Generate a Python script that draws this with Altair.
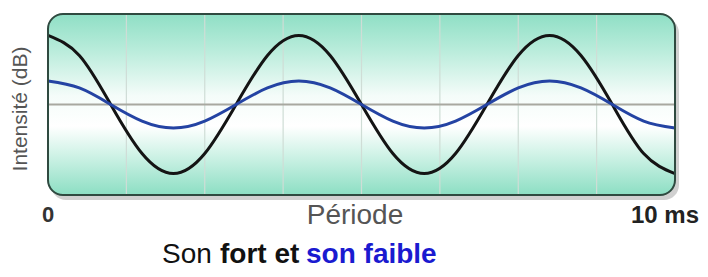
import altair as alt
import pandas as pd

# ---- data ----
time_ms = [0, 0.5, 1, 1.5, 2, 2.5, 3, 3.5, 4, 4.5, 5, 5.5, 6, 6.5, 7, 7.5, 8, 8.5, 9, 9.5, 10]
son_fort = [1.0, 0.71, 0.0, -0.71, -1.0, -0.71, 0.0, 0.71, 1.0, 0.71, 0.0, -0.71,
            -1.0, -0.71, 0.0, 0.71, 1.0, 0.71, 0.0, -0.71, -1.0]
son_faible = [0.34, 0.24, 0.0, -0.24, -0.34, -0.24, 0.0, 0.24, 0.34, 0.24, 0.0, -0.24,
              -0.34, -0.24, 0.0, 0.24, 0.34, 0.24, 0.0, -0.24, -0.34]
grid_x = [1.25, 2.5, 3.75, 5, 6.25, 7.5, 8.75]
grid_y = [0]

W, H = 627, 181
FONT = "Liberation Sans"

xs = alt.Scale(domain=[0, 10], nice=False, zero=False)
ys = alt.Scale(domain=[-1.31, 1.31], nice=False, zero=False)

lines_df = pd.DataFrame({
    "t": time_ms * 2,
    "v": son_fort + son_faible,
    "serie": ["fort"] * len(time_ms) + ["faible"] * len(time_ms),
    "ordre": [0] * len(time_ms) + [1] * len(time_ms),
})
one = pd.DataFrame({"a": [0]})

shadow = alt.Chart(one).mark_rect(cornerRadius=15, fill="#8a8a8a", opacity=0.4).encode(
    x=alt.value(3), x2=alt.value(W + 4), y=alt.value(4), y2=alt.value(H + 5)
)

gradient = {
    "gradient": "linear", "x1": 0, "y1": 0, "x2": 0, "y2": 1,
    "stops": [
        {"offset": 0.0, "color": "#8fdfc5"},
        {"offset": 0.2, "color": "#b9ecdb"},
        {"offset": 0.45, "color": "#f4fcf9"},
        {"offset": 0.62, "color": "#ffffff"},
        {"offset": 0.82, "color": "#c3efe0"},
        {"offset": 1.0, "color": "#8cdec3"},
    ],
}
box = alt.Chart(one).mark_rect(cornerRadius=15, fill=gradient).encode(
    x=alt.value(0), x2=alt.value(W), y=alt.value(0), y2=alt.value(H)
)

vgrid = alt.Chart(pd.DataFrame({"g": grid_x})).mark_rule(color="#cfddd6", strokeWidth=1.2).encode(
    x=alt.X("g:Q", scale=xs, axis=None)
)
hgrid = alt.Chart(pd.DataFrame({"h": grid_y})).mark_rule(color="#a8a8a0", strokeWidth=1.8).encode(
    y=alt.Y("h:Q", scale=ys, axis=None)
)

curves = alt.Chart(lines_df).mark_line(strokeWidth=3, interpolate="natural").encode(
    x=alt.X("t:Q", scale=xs, axis=None),
    y=alt.Y("v:Q", scale=ys, axis=None),
    color=alt.Color("serie:N", scale=alt.Scale(domain=["fort", "faible"], range=["#141414", "#2443a3"]), legend=None),
    detail="serie:N",
    order="ordre:Q",
)

border = alt.Chart(one).mark_rect(cornerRadius=15, fillOpacity=0, stroke="#2f4a40", strokeWidth=2).encode(
    x=alt.value(0), x2=alt.value(W), y=alt.value(0), y2=alt.value(H)
)

def label(txt, x, y, size, color, weight="normal", align="left", angle=0, baseline="alphabetic"):
    return alt.Chart(one).mark_text(
        text=txt, font=FONT, fontSize=size, color=color, fontWeight=weight,
        align=align, baseline=baseline, angle=angle,
    ).encode(x=alt.value(x), y=alt.value(y))

texts = [
    label("Intensité (dB)", -27, 95, 21, "#555555", align="center", angle=270, baseline="middle"),
    label("0", 0, 208, 22, "#333333", weight="bold", align="center"),
    label("Période", 307, 210, 28, "#555555", align="center"),
    label("10 ms", 651, 209, 24, "#222222", weight="bold", align="right"),
    label("Son", 114, 249, 28, "#111111"),
    label("fort et", 172, 249, 28, "#111111", weight="bold"),
    label("son faible", 258, 249, 28, "#1a1ad0", weight="bold"),
]

chart = alt.layer(shadow, box, vgrid, hgrid, curves, border, *texts).properties(
    width=W, height=H,
    padding={"left": 40, "top": 6, "right": 25, "bottom": 74},
    autosize=alt.AutoSizeParams(type="none"),
    background="#ffffff",
).configure_view(stroke=None)

chart.save("out.html", embed_options={"renderer": "svg", "actions": False})
